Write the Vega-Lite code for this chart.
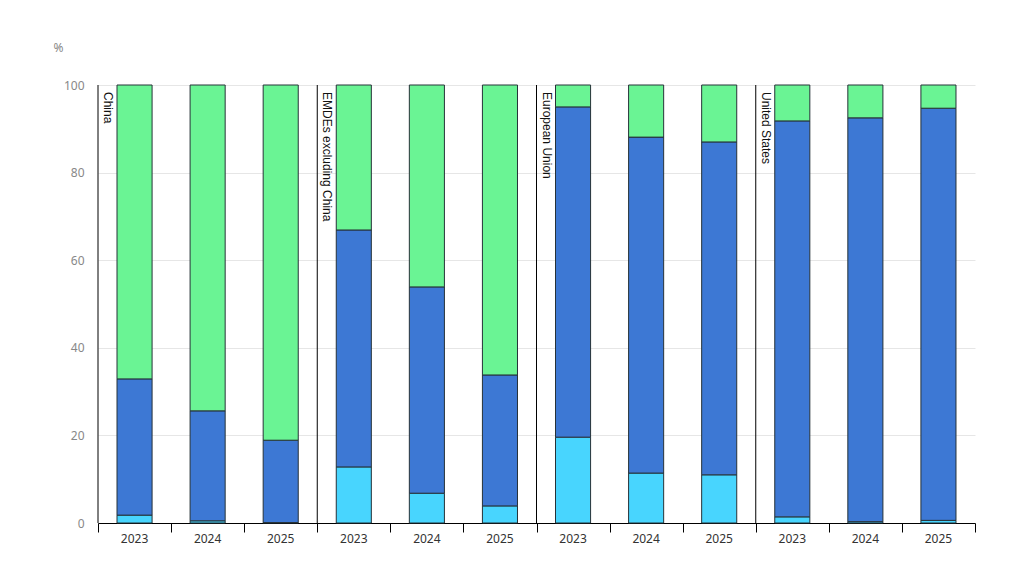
{
  "$schema": "https://vega.github.io/schema/vega-lite/v6.json",
  "width": 877,
  "height": 438,
  "autosize": {"type": "none"},
  "padding": {"left": 98, "top": 85, "right": 46, "bottom": 47},
  "config": {"view": {"stroke": null}, "font": "Noto Sans"},
  "datasets": {
    "shares": [
      {"bar": "China 2023", "share": "Segment 1", "pct": 1.8},
      {"bar": "China 2023", "share": "Segment 2", "pct": 31.1},
      {"bar": "China 2023", "share": "Segment 3", "pct": 67.1},
      {"bar": "China 2024", "share": "Segment 1", "pct": 0.5},
      {"bar": "China 2024", "share": "Segment 2", "pct": 25.1},
      {"bar": "China 2024", "share": "Segment 3", "pct": 74.4},
      {"bar": "China 2025", "share": "Segment 1", "pct": 0.1},
      {"bar": "China 2025", "share": "Segment 2", "pct": 18.8},
      {"bar": "China 2025", "share": "Segment 3", "pct": 81.1},
      {"bar": "EMDEs 2023", "share": "Segment 1", "pct": 12.8},
      {"bar": "EMDEs 2023", "share": "Segment 2", "pct": 54.1},
      {"bar": "EMDEs 2023", "share": "Segment 3", "pct": 33.1},
      {"bar": "EMDEs 2024", "share": "Segment 1", "pct": 6.8},
      {"bar": "EMDEs 2024", "share": "Segment 2", "pct": 47.1},
      {"bar": "EMDEs 2024", "share": "Segment 3", "pct": 46.1},
      {"bar": "EMDEs 2025", "share": "Segment 1", "pct": 3.9},
      {"bar": "EMDEs 2025", "share": "Segment 2", "pct": 29.9},
      {"bar": "EMDEs 2025", "share": "Segment 3", "pct": 66.2},
      {"bar": "EU 2023", "share": "Segment 1", "pct": 19.6},
      {"bar": "EU 2023", "share": "Segment 2", "pct": 75.4},
      {"bar": "EU 2023", "share": "Segment 3", "pct": 5.0},
      {"bar": "EU 2024", "share": "Segment 1", "pct": 11.4},
      {"bar": "EU 2024", "share": "Segment 2", "pct": 76.7},
      {"bar": "EU 2024", "share": "Segment 3", "pct": 11.9},
      {"bar": "EU 2025", "share": "Segment 1", "pct": 11.0},
      {"bar": "EU 2025", "share": "Segment 2", "pct": 76.0},
      {"bar": "EU 2025", "share": "Segment 3", "pct": 13.0},
      {"bar": "US 2023", "share": "Segment 1", "pct": 1.4},
      {"bar": "US 2023", "share": "Segment 2", "pct": 90.4},
      {"bar": "US 2023", "share": "Segment 3", "pct": 8.2},
      {"bar": "US 2024", "share": "Segment 1", "pct": 0.3},
      {"bar": "US 2024", "share": "Segment 2", "pct": 92.2},
      {"bar": "US 2024", "share": "Segment 3", "pct": 7.5},
      {"bar": "US 2025", "share": "Segment 1", "pct": 0.6},
      {"bar": "US 2025", "share": "Segment 2", "pct": 94.1},
      {"bar": "US 2025", "share": "Segment 3", "pct": 5.3}
    ],
    "regions": [
      {"region": "China", "start": 0},
      {"region": "EMDEs excluding China", "start": 3},
      {"region": "European Union", "start": 6},
      {"region": "United States", "start": 9}
    ]
  },
  "layer": [
    {
      "data": {"name": "shares"},
      "mark": {"type": "bar", "stroke": "#263238", "strokeWidth": 1},
      "encoding": {
        "x": {
          "field": "bar",
          "type": "nominal",
          "sort": null,
          "scale": {"paddingInner": 0.52, "paddingOuter": 0.26},
          "axis": {
            "orient": "bottom",
            "title": null,
            "labelExpr": "slice(datum.value, -4)",
            "labelAngle": 0,
            "ticks": false,
            "domain": false,
            "labelPadding": 10,
            "labelColor": "#333333",
            "labelFontSize": 12,
            "grid": false
          }
        },
        "y": {
          "field": "pct",
          "type": "quantitative",
          "stack": "zero",
          "scale": {"domain": [0, 100]},
          "axis": {
            "title": "%",
            "titleAngle": 0,
            "titleX": -45,
            "titleY": -38,
            "titleAlign": "left",
            "titleBaseline": "middle",
            "titleFontWeight": "normal",
            "titleColor": "#888888",
            "titleFontSize": 12,
            "values": [0, 20, 40, 60, 80, 100],
            "ticks": false,
            "domain": false,
            "labelPadding": 14,
            "labelColor": "#888888",
            "labelFontSize": 12,
            "gridColor": "#e6e6e6"
          }
        },
        "color": {
          "field": "share",
          "type": "nominal",
          "scale": {
            "domain": ["Segment 1", "Segment 2", "Segment 3"],
            "range": ["#48d5fe", "#3d78d4", "#6af494"]
          },
          "legend": null
        },
        "order": {"field": "share", "type": "nominal", "sort": "ascending"}
      }
    },
    {
      "data": {"name": "regions"},
      "mark": {"type": "rule", "color": "#000000", "strokeWidth": 1},
      "encoding": {
        "x": {
          "field": "start",
          "type": "quantitative",
          "scale": {"domain": [0, 12], "nice": false, "zero": false},
          "axis": {
            "orient": "bottom",
            "title": null,
            "values": [0, 1, 2, 3, 4, 5, 6, 7, 8, 9, 10, 11, 12],
            "labels": false,
            "grid": false,
            "tickSize": 9,
            "tickColor": "#000000",
            "domainColor": "#000000",
            "domainWidth": 1,
            "tickWidth": 1
          }
        }
      }
    },
    {
      "data": {"name": "regions"},
      "mark": {"type": "text", "angle": 90, "align": "left", "baseline": "bottom", "xOffset": 3, "yOffset": 7, "fontSize": 12, "color": "#111111", "font": "Liberation Sans"},
      "encoding": {
        "x": {"field": "start", "type": "quantitative", "scale": {"domain": [0, 12], "nice": false, "zero": false}, "axis": null},
        "y": {"datum": 100, "type": "quantitative"},
        "text": {"field": "region"}
      }
    }
  ],
  "resolve": {"scale": {"x": "independent"}}
}
